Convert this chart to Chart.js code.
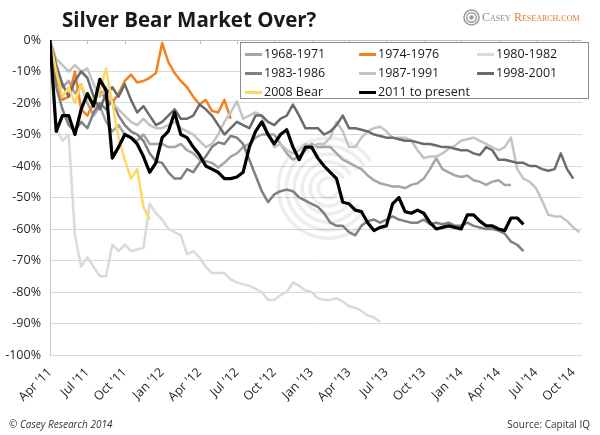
<!DOCTYPE html>
<html>
<head>
<meta charset="utf-8">
<script src="https://cdn.jsdelivr.net/npm/chart.js@4.4.0/dist/chart.umd.min.js"></script>
<style>
  body { margin: 0; background: #fff; font-family: "Open Sans", sans-serif; }
  #wrap { position: relative; width: 600px; height: 435px; overflow: hidden; }
  #c { position: absolute; left: 0; top: 0; }
  #title { position: absolute; left: 62px; top: 5px; font-size: 20.5px; font-weight: bold; color: #1a1a1a; }
  #logo { position: absolute; left: 463px; top: 8px; height: 18px; display: flex; align-items: center; white-space: nowrap; }
  #logo .txt { font-family: "Liberation Serif", serif; font-variant: small-caps; font-size: 12px; margin-left: 2px; white-space: nowrap; }
  #logo .g { color: #8a8a8a; }
  #logo .o { color: #e4793a; }
  #legend { position: absolute; left: 240px; top: 42px; width: 349px; height: 57px; border: 1px solid #8c8c8c; background: #fff; box-sizing: border-box; }
  .item { position: absolute; font-size: 12.5px; color: #1a1a1a; white-space: nowrap; height: 18px; line-height: 18px; }
  .item i { display: inline-block; width: 17px; height: 3px; vertical-align: middle; margin-right: 2px; }
  #copy { position: absolute; left: 9px; top: 417px; font-size: 10px; font-style: italic; color: #333; }
  #source { position: absolute; right: 10px; top: 417px; font-size: 10px; color: #333; }
</style>
</head>
<body>
<div id="wrap">
  <canvas id="c" width="600" height="435"></canvas>
  <div id="title">Silver Bear Market Over?</div>
  <div id="logo">
    <svg width="17" height="17" viewBox="0 0 17 17">
      <circle cx="8.5" cy="8.5" r="7.5" fill="none" stroke="#9a9a9a" stroke-width="1.6"/>
      <circle cx="8.5" cy="8.5" r="4.8" fill="none" stroke="#9a9a9a" stroke-width="1.4"/>
      <circle cx="8.5" cy="8.5" r="2.2" fill="#9a9a9a"/>
    </svg>
    <span class="txt"><span class="g">Casey&nbsp;</span><span class="o">Research.com</span></span>
  </div>
  <div id="legend"></div>
  <div id="copy">© Casey Research 2014</div>
  <div id="source">Source: Capital IQ</div>
</div>
<script>
// x axis labels, one per quarter
const tickLabels = ["Apr '11", "Jul '11", "Oct '11", "Jan '12", "Apr '12", "Jul '12", "Oct '12", "Jan '13",
                    "Apr '13", "Jul '13", "Oct '13", "Jan '14", "Apr '14", "Jul '14", "Oct '14"];

// readings every half month, % from the peak
const STEP = 0.5;

const s1968 = [0, -10, -15, -13, -17, -14, -20, -24, -21, -26, -29, -27, -30, -31, -32, -30, -33, -33, -33, -34,
  -34, -33, -35, -36, -38, -38.5, -39, -40.5, -39, -37, -36, -34, -33, -31, -30, -30, -30, -33, -36, -38,
  -37, -35, -33, -34, -34, -34, -36, -38, -39, -40, -41, -43, -44.5, -45.5, -46, -46.5, -46.5, -47, -46, -45.5,
  -44, -41, -37.5, -41, -42, -43, -43.5, -43, -44.5, -45, -46, -45, -44.5, -46, -46];

const s1974 = [0, -12, -19, -18, -10, -22, -24, -20, -16, -19, -20, -17, -13, -11, -13.5, -13, -12, -10.5, -1, -7,
  -10.5, -13, -15, -18, -20.5, -19, -22.5, -23, -19, -25];

const s1980 = [0, -28, -32, -30, -62, -72, -69, -72, -75, -75, -65, -67, -65, -67, -66.5, -66, -52, -55, -57, -60,
  -61, -62, -68, -67, -69, -72, -74, -74, -74, -76, -77, -77.5, -78, -79, -80, -82.5, -82.5, -81, -80, -77,
  -78, -79.5, -80, -82, -82.5, -82.5, -82, -83, -84.5, -85, -86, -87.5, -88, -89.5];

const s1983 = [0, -15, -22, -27, -29, -26, -28, -23, -20, -22, -19, -24, -27, -29, -30, -32, -36, -38.5, -39, -42,
  -44, -44, -41, -42, -39, -37, -34, -32.5, -33, -30.5, -31, -33, -38, -43, -48, -51.5, -49, -48, -47.5, -48,
  -50, -51, -52, -53, -55, -58, -59, -59, -61, -62, -59, -57.5, -57, -58, -57, -56, -57, -57.5, -58, -58,
  -57, -58.5, -58, -58.5, -58, -59, -59, -58, -59, -59.5, -60, -60, -60.5, -61.5, -64, -65, -67];

const s1987 = [0, -6, -8, -10, -8, -10, -9, -14, -18, -15, -20, -22, -24, -26, -27, -25, -27, -28, -28, -27,
  -26, -28, -29, -30, -32, -34, -33, -30, -26, -23, -19.5, -25, -24, -23, -24, -30, -34, -33, -35, -36,
  -35, -33, -34, -33, -33, -31, -26, -29, -34, -34, -31, -29, -28, -27.5, -29, -31, -31, -31, -32, -35,
  -37.5, -37, -37, -36, -34.5, -33.5, -32, -31.5, -31, -32, -33, -34, -35, -34, -31, -41, -44, -45, -47, -51,
  -55.5, -56, -56, -57.5, -59.5, -61];

const s1998 = [0, -8, -14, -18, -13, -10, -12, -18, -22, -17, -15, -18, -14, -19, -23, -21, -24, -27, -26, -24,
  -22, -25, -25, -24, -20.5, -22, -24, -27, -30, -28, -26, -27, -28, -24, -24, -26, -27, -25, -24, -20.5,
  -24, -28, -28, -28, -30, -29, -27, -24, -28, -28, -28.5, -29, -30, -30.5, -31, -31, -31.5, -32, -32, -32.5,
  -33, -33, -33.5, -34, -34, -34.5, -35, -35, -36, -36.5, -34, -35, -38, -38, -38.5, -39, -39, -40, -40, -41,
  -41.5, -41, -36, -41, -44];

const s2008 = [0, -10, -18, -15, -20, -14, -19, -19, -16, -9, -20, -31, -38, -44, -41, -53, -57];

const s2011 = [0, -29, -24, -24, -30, -22, -17, -21, -12.5, -16, -37.5, -34, -30, -31, -33, -37, -42, -39, -31, -29,
  -23, -30, -31, -34, -36.5, -40, -41, -42, -44, -44, -43.5, -42, -34, -29, -26, -30, -33, -30, -28.5, -34,
  -38, -34, -34, -37.5, -40, -42, -44, -51.5, -52, -54, -54.5, -58, -60.5, -59.5, -59, -52, -50, -54.5, -55, -54,
  -55, -58, -60, -59.5, -59, -59.5, -60, -55.5, -55.5, -57.5, -59, -59, -60, -60.5, -56.5, -56.5, -58.5];

const seriesNames = ['1968-1971', '1974-1976', '1980-1982', '1983-1986', '1987-1991', '1998-2001', '2008 Bear', '2011 to present'];
const seriesValues = [s1968, s1974, s1980, s1983, s1987, s1998, s2008, s2011];
const seriesColors = ['#a5a5a5', '#f4801f', '#dadada', '#808080', '#c3c3c3', '#6b6b6b', '#fed865', '#000000'];
const seriesWidths = [2.5, 2.5, 2.5, 2.5, 2.5, 2.5, 2.5, 3.2];

// 범례 (HTML)
const legendPos = [[4, 2], [118, 2], [236, 2], [4, 21], [118, 21], [236, 21], [4, 40], [118, 40]];
const legendBox = document.getElementById('legend');
seriesNames.forEach((name, i) => {
    const el = document.createElement('div');
    el.className = 'item';
    el.style.left = legendPos[i][0] + 'px';
    el.style.top = legendPos[i][1] + 'px';
    el.innerHTML = '<i style="background:' + seriesColors[i] + '"></i>' + name;
    legendBox.appendChild(el);
});

// Excel draws later series on top, Chart.js the first one
const datasets = seriesNames.map((name, i) => ({
    label: name,
    data: seriesValues[i].map((v, k) => ({ x: k * STEP, y: v })),
    borderColor: seriesColors[i],
    borderWidth: seriesWidths[i],
    pointRadius: 0,
    tension: 0,
    borderJoinStyle: 'round'
})).reverse();

// watermark + top axis ticks
const extras = {
    id: 'extras',
    beforeDatasetsDraw(chart) {
        const { ctx, chartArea: a, scales: { x } } = chart;
        ctx.save();
        const cx = a.left + (a.right - a.left) * 0.523;
        const cy = a.top + (a.bottom - a.top) * 0.47;
        ctx.strokeStyle = 'rgba(0,0,0,0.07)';
        ctx.lineWidth = 3.5;
        [10, 18, 26, 34, 42, 50].forEach((r, i) => {
            ctx.beginPath();
            ctx.arc(cx, cy, r, 0.35 + i * 0.05, Math.PI * 2 - 0.55);
            ctx.stroke();
        });
        // axis line at 0% with small tick marks
        ctx.strokeStyle = '#bfbfbf';
        ctx.lineWidth = 1;
        ctx.beginPath();
        ctx.moveTo(a.left, a.top + 0.5);
        ctx.lineTo(a.right, a.top + 0.5);
        tickLabels.forEach((t, i) => {
            const px = Math.round(x.getPixelForValue(i * 3)) + 0.5;
            ctx.moveTo(px, a.top);
            ctx.lineTo(px, a.top + 4);
        });
        ctx.stroke();
        ctx.restore();
    }
};

new Chart(document.getElementById('c'), {
    type: 'line',
    data: { datasets },
    options: {
        responsive: false,
        animation: false,
        devicePixelRatio: 1,
        layout: { padding: { top: 40, right: 18, left: 0, bottom: 0 } },
        plugins: { legend: { display: false }, tooltip: { enabled: false } },
        scales: {
            x: {
                type: 'linear',
                min: 0,
                max: 42.7,
                afterBuildTicks: (scale) => { scale.ticks = tickLabels.map((t, i) => ({ value: i * 3 })); },
                afterFit: (scale) => { scale.height = 80; },
                grid: { display: false },
                border: { display: false },
                ticks: {
                    autoSkip: false,
                    minRotation: 45,
                    maxRotation: 45,
                    padding: 2,
                    color: '#262626',
                    font: { family: 'Open Sans', size: 12.5 },
                    callback: (v) => tickLabels[Math.round(v / 3)]
                }
            },
            y: {
                min: -100,
                max: 0,
                afterFit: (scale) => { scale.width = 50; },
                grid: { color: '#d9d9d9', lineWidth: 1, drawTicks: false },
                border: { color: '#c8c8c8' },
                ticks: {
                    stepSize: 10,
                    padding: 9,
                    color: '#262626',
                    font: { family: 'Open Sans', size: 12.5 },
                    callback: (v) => v + '%'
                }
            }
        }
    },
    plugins: [extras]
});
</script>
</body>
</html>
